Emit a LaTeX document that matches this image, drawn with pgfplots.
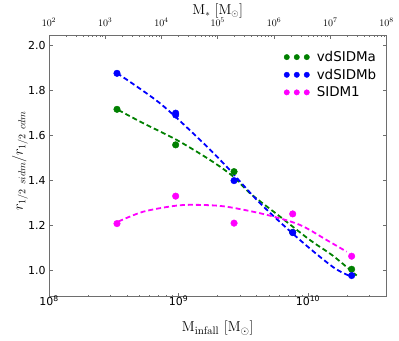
\documentclass[border=0pt]{standalone}
\usepackage[no-math]{fontspec}
\setmainfont{DejaVu Sans}
\usepackage{pgfplots}
\pgfplotsset{compat=1.18}
\definecolor{mgreen}{RGB}{0,128,0}
\definecolor{mblue}{RGB}{0,0,255}
\definecolor{mmag}{RGB}{255,0,255}
\definecolor{frameg}{RGB}{110,110,110}
\begin{document}
\begin{tikzpicture}
\begin{axis}[
  name=main,
  scale only axis, width=337.5bp, height=261.4bp,
  xmode=log, xmin=1e8, xmax=4.04e10,
  ymin=0.884, ymax=2.046,
  xtick={1e8,1e9,1e10},
  xticklabels={10\textsuperscript{8},10\textsuperscript{9},10\textsuperscript{10}},
  minor xtick={2e8,3e8,4e8,5e8,6e8,7e8,8e8,9e8,2e9,3e9,4e9,5e9,6e9,7e9,8e9,9e9,2e10,3e10,4e10},
  xtick pos=left,
  ytick={1.0,1.2,1.4,1.6,1.8,2.0},
  yticklabel style={/pgf/number format/.cd, fixed, fixed zerofill, precision=1},
  /pgf/number format/assume math mode=true,
  tick align=inside,
  major tick length=4bp, minor tick length=2bp,
  axis line style={frameg, line width=1bp},
  every tick/.style={frameg, line width=0.6bp},
  ticklabel style={font=\fontsize{11}{13}\selectfont},
  xticklabel style={anchor=base, yshift=-8.5bp},
  xlabel={$\mathrm{M_{infall}}\ [\mathrm{M_\odot}]$},
  ylabel={$r_{1/2\ sidm}/r_{1/2\ cdm}$},
  xlabel style={font=\fontsize{15}{18}\selectfont, at={(axis description cs:0.5,-0.135)}, anchor=base},
  ylabel style={font=\fontsize{14.5}{17}\selectfont, at={(axis description cs:-0.086,0.52)}, anchor=center},
  legend style={at={(0.985,0.955)}, anchor=north east, draw=none, fill=none,
    font=\fontsize{13.5}{16}\selectfont, row sep=2bp},
  legend cell align=left,
  legend image code/.code={\path[draw=none,fill=none] (-3bp,0bp) -- (28bp,0bp);\draw[#1,only marks,mark size=2.7bp] plot coordinates {(0bp,0bp)(10bp,0bp)(20bp,0bp)};},
]
% fit curves
\addplot[mgreen, line width=1.8bp, dash pattern=on 5bp off 3bp, smooth, forget plot] coordinates {
 (3.43e8,1.714) (5.35e8,1.655) (9.68e8,1.581) (1.75e9,1.492) (2.65e9,1.418)
 (3.565e9,1.344) (6.08e9,1.240) (1.035e10,1.136) (1.567e10,1.065) (2.377e10,0.978)};
\addplot[mblue, line width=1.8bp, dash pattern=on 5bp off 3bp, smooth, forget plot] coordinates {
 (3.35e8,1.878) (7.19e8,1.744) (1.466e9,1.581) (2.355e9,1.462) (4.256e9,1.300)
 (8.67e9,1.136) (1.567e10,1.015) (2.109e10,0.976)};
\addplot[mmag, line width=1.8bp, dash pattern=on 5bp off 3bp, smooth, forget plot] coordinates {
 (3.43e8,1.218) (5.35e8,1.262) (9.68e8,1.289) (1.466e9,1.292) (2.355e9,1.284)
 (4.80e9,1.248) (8.67e9,1.203) (1.393e10,1.136) (1.99e10,1.084)};
% data
\addplot[only marks, mark=*, color=mgreen, mark size=3.3bp] coordinates {
 (3.35e8,1.717) (9.51e8,1.559) (2.685e9,1.440) (7.62e9,1.17) (2.173e10,1.006)};
\addlegendentry{vdSIDMa}
\addplot[only marks, mark=*, color=mblue, mark size=3.3bp] coordinates {
 (3.35e8,1.877) (9.51e8,1.692) (9.51e8,1.700) (2.685e9,1.400) (7.62e9,1.169) (2.173e10,0.978)};
\addlegendentry{vdSIDMb}
\addplot[only marks, mark=*, color=mmag, mark size=3.3bp] coordinates {
 (3.35e8,1.209) (9.51e8,1.331) (2.685e9,1.211) (7.62e9,1.252) (2.173e10,1.064)};
\addlegendentry{SIDM1}
\end{axis}
\begin{axis}[
  scale only axis, width=337.5bp, height=261.4bp,
  at={(main.south west)}, anchor=south west,
  xmode=log, xmin=1e2, xmax=1e8,
  ymin=0, ymax=1,
  axis x line*=top, axis y line=none,
  xtick={1e2,1e3,1e4,1e5,1e6,1e7,1e8},
  minor xtick={2e2,3e2,4e2,5e2,6e2,7e2,8e2,9e2,2e3,3e3,4e3,5e3,6e3,7e3,8e3,9e3,
    2e4,3e4,4e4,5e4,6e4,7e4,8e4,9e4,2e5,3e5,4e5,5e5,6e5,7e5,8e5,9e5,
    2e6,3e6,4e6,5e6,6e6,7e6,8e6,9e6,2e7,3e7,4e7,5e7,6e7,7e7,8e7,9e7},
  tick align=inside,
  major tick length=4bp, minor tick length=2bp,
  axis line style={frameg, line width=1bp},
  every tick/.style={frameg, line width=0.6bp},
  xticklabel style={font=\fontsize{10}{12}\selectfont, anchor=base, yshift=9bp},
  xlabel={$\mathrm{M_*}\ [\mathrm{M_\odot}]$},
  xlabel style={font=\fontsize{13.5}{16}\selectfont, at={(axis description cs:0.5,1.08)}, anchor=base},
]
\end{axis}
\pgfresetboundingbox
\path ([shift={(-49bp,-44.3bp)}]main.south west) rectangle ([shift={(12.5bp,35.3bp)}]main.north east);
\end{tikzpicture}
\end{document}
